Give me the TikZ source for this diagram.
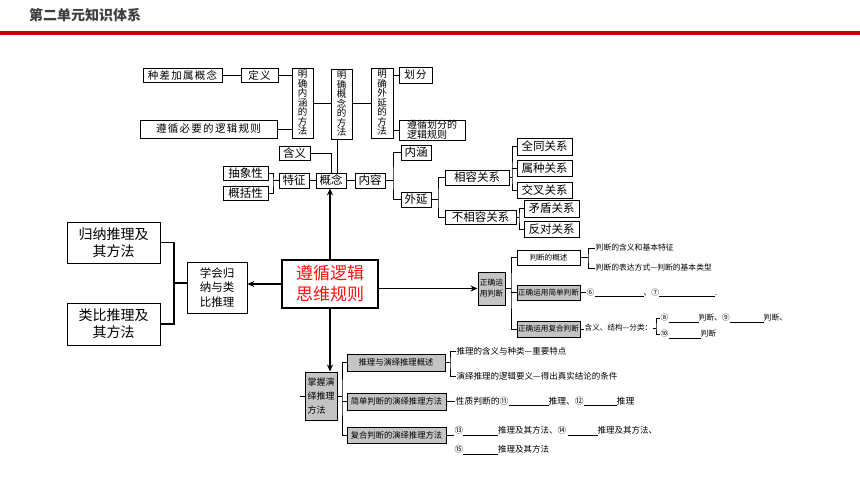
\documentclass[tikz,border=0pt]{standalone}
\usepackage{fontspec}
\setmainfont{Noto Sans CJK SC}
\usetikzlibrary{arrows.meta}
\definecolor{hdred}{HTML}{C00000}
\definecolor{hdgray}{HTML}{3F3F3F}
\definecolor{boxgray}{HTML}{C4C4C4}
\definecolor{mainred}{HTML}{FF1010}
\newcommand{\fs}[2]{\fontsize{#1}{#2}\selectfont}
\newcommand{\lsp}{\addfontfeature{LetterSpace=12}}
\newcommand{\blank}[1]{\rule[-1.5pt]{#1pt}{0.5pt}}
\begin{document}
\begin{tikzpicture}[x=1pt,y=-1pt,
  bx/.style={draw, line width=0.7pt, inner sep=0pt, align=center, fill=white},
  gb/.style={draw, line width=1pt, fill=boxgray, inner sep=0pt, align=center},
  ln/.style={line width=0.7pt},
  arr/.style={line width=1.6pt, -{Stealth[length=7pt,width=6pt]}},
  tx/.style={inner sep=0.5pt, anchor=west}]
\useasboundingbox (0,0) rectangle (860,484);
\fill[white] (0,0) rectangle (860,484);
% header
\node[anchor=west, font=\fs{14}{14}\bfseries, text=hdgray, inner sep=0] (hd) at (29,15) {第二单元知识体系};
\fill[hdred] (0,31) rectangle (860,35);
% ---------- top section
\node[bx, minimum width=79, minimum height=14, font=\fs{10.5}{10.5}\lsp] (zc) at (182.5,75) {种差加属概念};
\node[bx, minimum width=37, minimum height=14, font=\fs{10.5}{10.5}\lsp] (dy) at (259.5,75) {定义};
\node[bx, minimum width=21, minimum height=70, font=\fs{9.5}{9.5}] (mn) at (302.5,103) {明\\确\\内\\涵\\的\\方\\法};
\node[bx, minimum width=21, minimum height=70, font=\fs{9.5}{9.5}] (mg) at (341.5,104) {明\\确\\概\\念\\的\\方\\法};
\node[bx, minimum width=22, minimum height=70, font=\fs{9.5}{9.5}] (mw) at (382,103) {明\\确\\外\\延\\的\\方\\法};
\node[bx, minimum width=33, minimum height=16, font=\fs{10.5}{10.5}\lsp] (hf) at (415.5,75) {划分};
\node[bx, minimum width=137, minimum height=18, font=\fs{10.5}{10.5}\lsp] (zb) at (208.5,129) {遵循必要的逻辑规则};
\node[bx, minimum width=66, minimum height=20, font=\fs{10}{10}, align=left] (zh) at (432,130) {遵循划分的\\逻辑规则};
\draw[ln] (zc) -- (dy);
\draw[ln] (dy) -- (dy -| mn.west);
\draw[ln] (zb) -- (zb -| mn.west);
\draw[ln] (mn.east) -- (mn.east -| mg.west);
\draw[ln] (mw.west) -- (mw.west -| mg.east);
\draw[ln] (hf.west) -- (hf.west -| mw.east);
\draw[ln] (zh.west) -- (zh.west -| mw.east);
% ---------- concept section
\node[bx, minimum width=31, minimum height=14, font=\fs{11.5}{11.5}] (hy) at (294.5,153.5) {含义};
\node[bx, minimum width=45, minimum height=14, font=\fs{11.5}{11.5}] (cx) at (245.5,173) {抽象性};
\node[bx, minimum width=45, minimum height=14, font=\fs{11.5}{11.5}] (gk) at (245.5,193) {概括性};
\node[bx, minimum width=30, minimum height=15, font=\fs{11.5}{11.5}] (tz) at (294,180.5) {特征};
\node[bx, minimum width=30, minimum height=15, font=\fs{11.5}{11.5}] (gn) at (331,180.5) {概念};
\node[bx, minimum width=30, minimum height=15, font=\fs{11.5}{11.5}] (nr) at (370,180.5) {内容};
\node[bx, minimum width=30, minimum height=15, font=\fs{11.5}{11.5}] (nh) at (416,152.5) {内涵};
\node[bx, minimum width=30, minimum height=15, font=\fs{11.5}{11.5}] (wy) at (416,199.5) {外延};
\node[bx, minimum width=64, minimum height=15, font=\fs{11.5}{11.5}] (xr) at (477,177.5) {相容关系};
\node[bx, minimum width=71, minimum height=14, font=\fs{11.5}{11.5}] (bx) at (480.5,217) {不相容关系};
\node[bx, minimum width=55, minimum height=17, font=\fs{11.5}{11.5}] (qt) at (544.5,146.5) {全同关系};
\node[bx, minimum width=55, minimum height=16, font=\fs{11.5}{11.5}] (sz) at (544.5,168) {属种关系};
\node[bx, minimum width=55, minimum height=16, font=\fs{11.5}{11.5}] (jc) at (544.5,190) {交叉关系};
\node[bx, minimum width=55, minimum height=17, font=\fs{11.5}{11.5}] (md) at (551.5,208.5) {矛盾关系};
\node[bx, minimum width=55, minimum height=16, font=\fs{11.5}{11.5}] (fd) at (551.5,229) {反对关系};
\draw[ln] ([xshift=-4pt]mg.south) -- ([xshift=-4pt]mg.south |- gn.north);
\draw[ln] (hy.east) -| (gn.north);
\coordinate (b1) at (273,180.5);
\draw[ln] (cx.east) -| (b1) |- (gk.east);
\draw[ln] (b1) -- (tz.west);
\draw[ln] (tz) -- (gn);
\draw[ln] (gn) -- (nr);
\coordinate (b2) at (393,180.5);
\draw[ln] (nr.east) -- (b2);
\draw[ln] (nh.west) -| (b2) |- (wy.west);
\coordinate (b3) at (438,199.5);
\draw[ln] (wy.east) -- (b3);
\draw[ln] (xr.west) -| (b3) |- (bx.west);
\coordinate (b4) at (512,177.5);
\draw[ln] (xr.east) -- (b4);
\draw[ln] (qt.west) -| (b4) |- (jc.west);
\draw[ln] (sz.west) -- (sz.west -| b4);
\coordinate (b5) at (519,217);
\draw[ln] (bx.east) -- (b5);
\draw[ln] (md.west) -| (b5) |- (fd.west);
% ---------- main node
\node[draw, line width=2pt, minimum width=96, minimum height=48, inner sep=0, align=center, font=\fs{17}{21}, text=mainred] (mn0) at (330,284) {遵循逻辑\\思维规则};
% ---------- left
\node[bx, minimum width=60, minimum height=51, font=\fs{11.5}{14.5}] (xh) at (217,287.5) {学会归\\纳与类\\比推理};
\node[bx, minimum width=93, minimum height=41, font=\fs{14}{17}] (gl) at (113.5,242.5) {归纳推理及\\其方法};
\node[bx, minimum width=93, minimum height=42, font=\fs{14}{17}] (lb) at (113.5,324) {类比推理及\\其方法};
\coordinate (b6) at (174,283);
\draw[line width=1.2pt] (gl.east) -| (b6) |- (lb.east);
\draw[line width=1.2pt] (b6) -- (b6 -| xh.west);
\draw[arr] (mn0.west) -- (mn0.west -| xh.east);
\draw[arr] (mn0.north) -- (mn0.north |- gn.south);
% ---------- judgment section
\node[gb, minimum width=27, minimum height=33, font=\fs{7.8}{11}] (pd) at (491.5,288.5) {正确运\\用判断};
\node[bx, line width=1pt, minimum width=63, minimum height=15, font=\fs{7.6}{7.6}] (p1) at (548.5,257.5) {判断的概述};
\node[gb, minimum width=63, minimum height=15, font=\fs{7.6}{7.6}] (p2) at (548.5,292.5) {正确运用简单判断};
\node[gb, minimum width=63, minimum height=16, font=\fs{7.6}{7.6}] (p3) at (548.5,329) {正确运用复合判断};
\draw[arr] (mn0.east |- pd.west) -- (pd.west);
\coordinate (b7) at (511,288.5);
\draw[ln] (pd.east) -- (b7);
\draw[ln] (p1.west) -| (b7) |- (p3.west);
\draw[ln] (p2.west) -- (p2.west -| b7);
\node[tx, font=\fs{7.8}{7.8}] (t1) at (595,248) {判断的含义和基本特征};
\node[tx, font=\fs{7.8}{7.8}] (t2) at (595,268) {判断的表达方式—判断的基本类型};
\coordinate (b8) at (588,257.5);
\draw[ln] (p1.east) -- (b8);
\draw[ln] (t1.west) -| (b8) |- (t2.west);
\node[tx, font=\fs{7.8}{7.8}] (t6) at (586,292.5) {⑥\blank{49}、⑦\blank{56}.};
\draw[ln] (p2.east) -- (t6.west);
\node[tx, font=\fs{7.6}{7.6}] (fl) at (584,328) {含义、结构—分类：};
\draw[ln] (p3.east) -- (p3.east -| fl.west);
\coordinate (b11) at (656,327);
\node[tx, font=\fs{7.8}{7.8}] (t8) at (660,318) {⑧\blank{30}判断、⑨\blank{34}判断、};
\node[tx, font=\fs{7.8}{7.8}] (t10) at (660,334) {⑩\blank{32}判断};
\draw[ln] (fl.east) -- (fl.east -| b11);
\draw[ln] (t8.west) -| (b11) |- (t10.west);
% ---------- deduction section
\node[gb, minimum width=32, minimum height=48, font=\fs{9}{14}, align=left] (zw) at (321,396) {掌握演\\绎推理\\方法};
\draw[arr] (mn0.south) -- (mn0.south |- zw.north);
\draw[ln] (zw.west) -- ++(-5,0);
\node[gb, minimum width=98, minimum height=17, font=\fs{8.3}{8.3}] (q1) at (396,362.5) {推理与演绎推理概述};
\node[gb, minimum width=99, minimum height=17, font=\fs{8.3}{8.3}] (q2) at (396.5,401.5) {简单判断的演绎推理方法};
\node[gb, minimum width=99, minimum height=16, font=\fs{8.3}{8.3}] (q3) at (396.5,435) {复合判断的演绎推理方法};
\coordinate (b9) at (342,396);
\draw[ln] (zw.east) -- (b9);
\draw[ln] (q1.west) -| (b9) |- (q3.west);
\draw[ln] (q2.west) -- (q2.west -| b9);
\node[tx, font=\fs{8.5}{8.5}] (r1) at (456,351) {推理的含义与种类—重要特点};
\node[tx, font=\fs{8.5}{8.5}] (r2) at (456,376) {演绎推理的逻辑要义—得出真实结论的条件};
\coordinate (b10) at (450,362.5);
\draw[ln] (q1.east) -- (b10);
\draw[ln] (r1.west) -| (b10) |- (r2.west);
\node[tx, font=\fs{8.8}{8.8}] (r3) at (455,401.5) {性质判断的⑪\blank{40}推理、⑫\blank{33}推理};
\draw[ln] (q2.east) -- (r3.west);
\node[tx, font=\fs{8.5}{8.5}] (r4) at (454,431) {⑬\blank{35}推理及其方法、⑭\,\blank{30}推理及其方法、};
\node[tx, font=\fs{8.5}{8.5}] (r5) at (454,450) {⑮\blank{35}推理及其方法};
\draw[ln] (q3.east) -- (q3.east -| r4.west);
\end{tikzpicture}
\end{document}
